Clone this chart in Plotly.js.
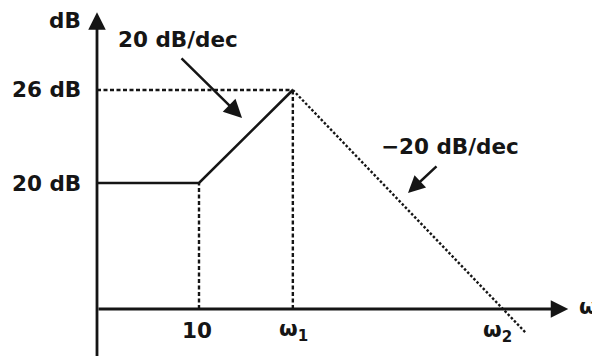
<!DOCTYPE html>
<html>
<head>
<meta charset="utf-8">
<script src="https://cdn.plot.ly/plotly-3.0.1.min.js"></script>
<style>
  html, body { margin: 0; padding: 0; background: #fff; }
  #plot { width: 592px; height: 356px; }
</style>
</head>
<body>
<div id="plot"></div>
<script>
// Asymptotic Bode magnitude sketch (schematic units: the ω axis sits at 0,
// the gain axis at 0).
const cornerLabels = ['10', 'ω<sub>1</sub>', 'ω<sub>2</sub>'];
const cornerAt = [10, 19.2, 39.8];        // 10, ω1, ω2 along the ω axis
const gainLabels = ['20 dB', '26 dB'];
const gainAt = [12.35, 21.47];            // 20 dB and 26 dB levels
const slopeLabels = ['20 dB/dec', '−20 dB/dec'];
const tailAt = 42;                        // dashed asymptote runs a little past ω2

const ink = '#151515';
const fontB = { family: 'DejaVu Sans, Verdana, sans-serif', size: 21.5, color: ink, weight: 'bold' };

// Slope of the falling asymptote in schematic units
const fallSlope = (gainAt[1] - 0) / (cornerAt[2] - cornerAt[1]);

const traces = [
  // flat 20 dB section then +20 dB/dec rise to 26 dB
  { x: [0, cornerAt[0], cornerAt[1]], y: [gainAt[0], gainAt[0], gainAt[1]],
    mode: 'lines', line: { color: ink, width: 2.6 }, hoverinfo: 'skip' },
  // −20 dB/dec fall from ω1 through ω2
  { x: [cornerAt[1], tailAt],
    y: [gainAt[1], gainAt[1] - fallSlope * (tailAt - cornerAt[1])],
    mode: 'lines', line: { color: ink, width: 2.4, dash: '2.5px,2px' }, hoverinfo: 'skip' },
  // 26 dB guide
  { x: [0, cornerAt[1]], y: [gainAt[1], gainAt[1]],
    mode: 'lines', line: { color: ink, width: 2.4, dash: '4px,2.5px' }, hoverinfo: 'skip' },
  // drop lines at 10 and ω1
  { x: [cornerAt[0], cornerAt[0]], y: [0, gainAt[0]],
    mode: 'lines', line: { color: ink, width: 2.4, dash: '4px,2.5px' }, hoverinfo: 'skip' },
  { x: [cornerAt[1], cornerAt[1]], y: [0, gainAt[1]],
    mode: 'lines', line: { color: ink, width: 2.4, dash: '4px,2.5px' }, hoverinfo: 'skip' }
];

function arrow(x, y, ax, ay, w, size) {
  return { x: x, y: y, ax: ax, ay: ay, xref: 'x', yref: 'y', axref: 'x', ayref: 'y',
    text: '', showarrow: true, arrowhead: 2, arrowsize: size, arrowwidth: w,
    arrowcolor: ink, standoff: 0, startstandoff: 0 };
}
function label(text, x, y, xanchor) {
  return { x: x, y: y, xref: 'x', yref: 'y', text: text, showarrow: false,
    font: fontB, xanchor: xanchor || 'center', yanchor: 'middle' };
}

const annotations = [
  // gain axis and ω axis with arrowheads
  arrow(0, 29.1, 0, -5, 2.8, 1.25),
  arrow(46.2, 0, 0, 0, 2.8, 1.25),
  // slope pointers
  arrow(14.22, 18.73, 8.14, 24.71, 2.5, 1.45),
  arrow(30.49, 11.37, 33.43, 14.12, 2.5, 1.35),
  label('dB', -1.4, 28.3, 'right'),
  label('ω', 47.1, 0.2, 'left'),
  label(gainLabels[0], -1.35, gainAt[0], 'right'),
  label(gainLabels[1], -1.35, gainAt[1], 'right'),
  label(cornerLabels[0], cornerAt[0] - 0.2, -2.15),
  label(cornerLabels[1], cornerAt[1] + 0.1, -2.1),
  label(cornerLabels[2], cornerAt[2] - 0.5, -2.2),
  label(slopeLabels[0], 7.9, 26.45),
  label(slopeLabels[1], 34.6, 15.95)
];

const layout = {
  width: 592, height: 356,
  margin: { l: 0, r: 0, t: 0, b: 0 },
  paper_bgcolor: '#fff', plot_bgcolor: '#fff',
  showlegend: false,
  xaxis: { range: [-9.51, 48.53], visible: false, fixedrange: true },
  yaxis: { range: [-4.61, 30.29], visible: false, fixedrange: true },
  annotations: annotations
};

Plotly.newPlot('plot', traces, layout, { staticPlot: true, displayModeBar: false });
</script>
</body>
</html>
